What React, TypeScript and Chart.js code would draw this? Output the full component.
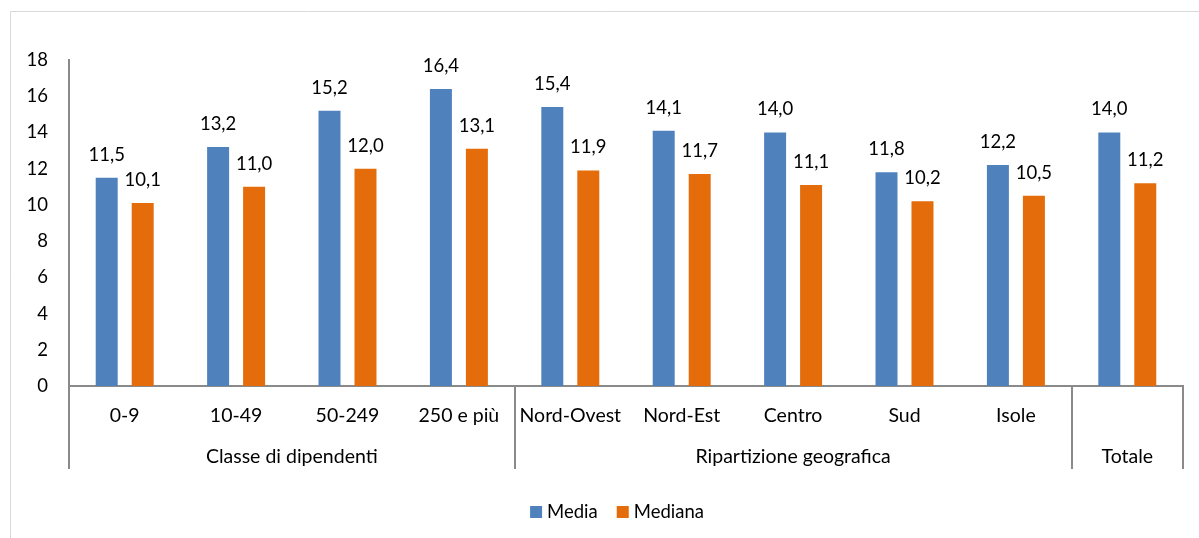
import React, { useEffect, useRef } from "react";
import { Chart, registerables } from "chart.js";

Chart.register(...registerables);

// Categories on the x axis and the groups they belong to
const categories = [
  "0-9",
  "10-49",
  "50-249",
  "250 e più",
  "Nord-Ovest",
  "Nord-Est",
  "Centro",
  "Sud",
  "Isole",
  "Totale",
];
const groupLabels = ["Classe di dipendenti", "Ripartizione geografica", "Totale"];
const groupSizes = [4, 5, 1];

// Series values
const media = [11.5, 13.2, 15.2, 16.4, 15.4, 14.1, 14.0, 11.8, 12.2, 14.0];
const mediana = [10.1, 11.0, 12.0, 13.1, 11.9, 11.7, 11.1, 10.2, 10.5, 11.2];

const seriesNames = ["Media", "Mediana"];
const seriesColors = ["#4F81BD", "#E46C0A"];

const FONT = "Lato, 'Open Sans', sans-serif";
const NUM_SIZE = 18.5;
const TEXT_SIZE = 19.5;
const AXIS_COLOR = "#8a8a8a";
const TEXT_COLOR = "#000000";

const fmt = (v: number) => v.toFixed(1).replace(".", ",");

const decorPlugin = {
  id: "decor",
  beforeDraw(chart: any) {
    const { ctx, width, height } = chart;
    ctx.save();
    ctx.fillStyle = "#ffffff";
    ctx.fillRect(0, 0, width, height);
    // outer frame of the chart area
    ctx.strokeStyle = "#d9d9d9";
    ctx.lineWidth = 1;
    ctx.beginPath();
    ctx.moveTo(10.5, height);
    ctx.lineTo(10.5, 11.5);
    ctx.lineTo(width, 11.5);
    ctx.stroke();
    ctx.restore();
  },
  afterDatasetsDraw(chart: any) {
    const { ctx, chartArea } = chart;
    const x = chart.scales.x;
    ctx.save();
    ctx.fillStyle = TEXT_COLOR;
    ctx.textAlign = "center";
    ctx.textBaseline = "alphabetic";

    // value labels above each bar
    ctx.font = `${NUM_SIZE}px ${FONT}`;
    chart.data.datasets.forEach((ds: any, di: number) => {
      const meta = chart.getDatasetMeta(di);
      meta.data.forEach((bar: any, i: number) => {
        ctx.fillText(fmt(ds.data[i]), bar.x, bar.y - 17);
      });
    });

    // category labels (first row); a single-category group shows only its group label
    ctx.font = `${TEXT_SIZE}px ${FONT}`;
    let idx = 0;
    groupSizes.forEach((size, g) => {
      for (let k = 0; k < size; k++, idx++) {
        if (size === 1 && categories[idx] === groupLabels[g]) continue;
        ctx.fillText(categories[idx], x.getPixelForValue(idx), chartArea.bottom + 36);
      }
    });

    // group labels (second row) and separators
    const step = (chartArea.right - chartArea.left) / categories.length;
    const sepBottom = chartArea.bottom + 83;
    ctx.strokeStyle = AXIS_COLOR;
    ctx.lineWidth = 2;
    let start = 0;
    const bounds: number[] = [chartArea.left];
    groupSizes.forEach((size, g) => {
      const left = chartArea.left + start * step;
      const right = chartArea.left + (start + size) * step;
      ctx.fillText(groupLabels[g], (left + right) / 2, chartArea.bottom + 77);
      bounds.push(right);
      start += size;
    });
    bounds.forEach((bx) => {
      const px = Math.round(bx);
      ctx.beginPath();
      ctx.moveTo(px, chartArea.bottom);
      ctx.lineTo(px, sepBottom);
      ctx.stroke();
    });

    // legend
    ctx.font = `${NUM_SIZE}px ${FONT}`;
    const box = 12;
    const gapText = 5;
    const gapItem = 19;
    const widths = seriesNames.map((n) => ctx.measureText(n).width);
    const total =
      widths.reduce((a, w) => a + box + gapText + w, 0) + gapItem * (seriesNames.length - 1);
    let lx = 617 - total / 2;
    const ly = 518;
    ctx.textAlign = "left";
    seriesNames.forEach((n, i) => {
      ctx.fillStyle = seriesColors[i];
      ctx.fillRect(lx, ly - box, box, box);
      ctx.fillStyle = TEXT_COLOR;
      ctx.fillText(n, lx + box + gapText, ly);
      lx += box + gapText + widths[i] + gapItem;
    });
    ctx.restore();
  },
};

export default function App() {
  const canvasRef = useRef<HTMLCanvasElement | null>(null);

  useEffect(() => {
    const canvas = canvasRef.current;
    if (!canvas) return;
    const chart = new Chart(canvas, {
      type: "bar",
      data: {
        labels: categories,
        datasets: [
          {
            label: seriesNames[0],
            data: media,
            backgroundColor: seriesColors[0],
            categoryPercentage: 0.646,
            barPercentage: 0.611,
          },
          {
            label: seriesNames[1],
            data: mediana,
            backgroundColor: seriesColors[1],
            categoryPercentage: 0.646,
            barPercentage: 0.611,
          },
        ],
      },
      options: {
        responsive: false,
        animation: false,
        devicePixelRatio: 1,
        layout: { padding: { top: 60, left: 10, right: 16, bottom: 0 } },
        plugins: {
          legend: { display: false },
          tooltip: { enabled: false },
        },
        scales: {
          x: {
            grid: { display: false, drawTicks: false },
            ticks: { display: false },
            border: { display: true, color: AXIS_COLOR, width: 2 },
            afterFit: (scale: any) => {
              scale.height = 152;
            },
          },
          y: {
            min: 0,
            max: 18,
            grid: { display: false, drawTicks: false },
            border: { display: true, color: AXIS_COLOR, width: 2 },
            ticks: {
              stepSize: 2,
              padding: 21,
              color: TEXT_COLOR,
              font: { family: FONT, size: NUM_SIZE },
            },
            afterFit: (scale: any) => {
              scale.width = 59;
            },
          },
        },
      },
      plugins: [decorPlugin],
    });
    return () => chart.destroy();
  }, []);

  return (
    <div style={{ position: "fixed", left: 0, top: 0, width: 1199, height: 538 }}>
      <canvas ref={canvasRef} width={1199} height={538} style={{ width: 1199, height: 538 }} />
    </div>
  );
}
